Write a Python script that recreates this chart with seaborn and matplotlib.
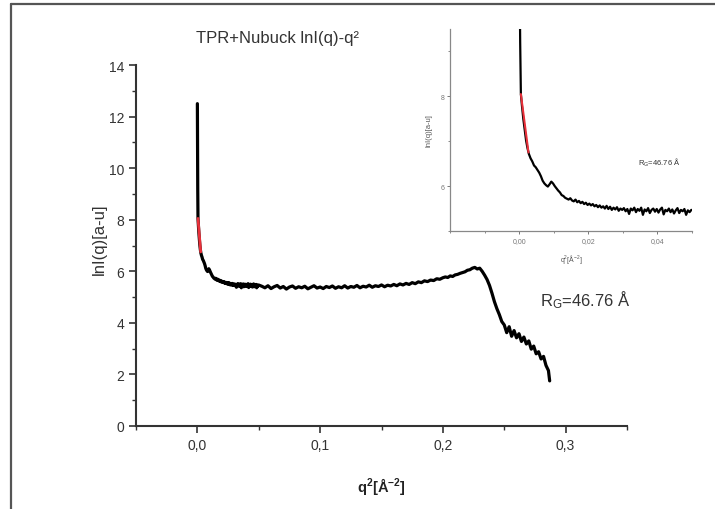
import matplotlib
matplotlib.use("Agg")
import matplotlib.pyplot as plt
from matplotlib.lines import Line2D
from matplotlib.ticker import MultipleLocator, FixedLocator, FixedFormatter
import numpy as np
import pandas as pd
import seaborn as sns

# --- data ------------------------------------------------------------------
# steep Guinier region (q^2 in A^-2, lnI in a.u.)
q2_spike = [0.0000, 0.0001, 0.0002, 0.0003, 0.0005, 0.0008, 0.0012, 0.0016, 0.0020, 0.0024,
            0.0028, 0.0033, 0.0038, 0.0043, 0.0048, 0.0053, 0.0058, 0.0063, 0.0068, 0.0073,
            0.0078, 0.0083, 0.0088, 0.0093, 0.0098, 0.0103, 0.0108, 0.0113, 0.0118, 0.0123,
            0.0128, 0.0133, 0.0138, 0.0143, 0.0148, 0.0153, 0.0158, 0.0163, 0.0168, 0.0173,
            0.0178, 0.0183, 0.0188, 0.0193, 0.0198, 0.0203, 0.0208, 0.0213, 0.0218, 0.0223,
            0.0228, 0.0233, 0.0238, 0.0243, 0.0248, 0.0253, 0.0258, 0.0263, 0.0268, 0.0273,
            0.0278, 0.0283, 0.0288, 0.0293, 0.0298, 0.0303, 0.0308, 0.0313, 0.0318, 0.0323,
            0.0328, 0.0333, 0.0338, 0.0343, 0.0348, 0.0353, 0.0358, 0.0363, 0.0368, 0.0373,
            0.0378, 0.0383, 0.0388, 0.0393, 0.0398, 0.0403, 0.0408, 0.0413, 0.0418, 0.0423,
            0.0428, 0.0433, 0.0438, 0.0443, 0.0448, 0.0453, 0.0458, 0.0463, 0.0468, 0.0473,
            0.0478, 0.0483, 0.0488, 0.0493, 0.0498]
lnI_spike = [12.50, 11.20, 10.10, 9.20, 8.05, 7.80, 7.50, 7.25, 7.02, 6.85,
             6.72, 6.62, 6.55, 6.46, 6.42, 6.36, 6.30, 6.22, 6.12, 6.06,
             6.02, 5.99, 6.04, 6.10, 6.06, 6.00, 5.95, 5.90, 5.86, 5.80,
             5.78, 5.74, 5.72, 5.70, 5.73, 5.68, 5.66, 5.70, 5.64, 5.67,
             5.62, 5.65, 5.60, 5.63, 5.58, 5.61, 5.57, 5.60, 5.55, 5.58,
             5.53, 5.57, 5.52, 5.55, 5.50, 5.56, 5.49, 5.54, 5.47, 5.52,
             5.48, 5.53, 5.45, 5.50, 5.47, 5.51, 5.44, 5.49, 5.38, 5.50,
             5.46, 5.52, 5.42, 5.49, 5.45, 5.52, 5.36, 5.48, 5.44, 5.51,
             5.40, 5.47, 5.50, 5.43, 5.49, 5.41, 5.48, 5.52, 5.37, 5.47,
             5.44, 5.50, 5.42, 5.48, 5.39, 5.46, 5.51, 5.40, 5.47, 5.44,
             5.49, 5.36, 5.46, 5.42, 5.47]

# plateau
q2_plateau = [0.0525, 0.0550, 0.0575, 0.0600, 0.0625, 0.0650, 0.0675, 0.0700, 0.0725, 0.0750,
              0.0775, 0.0800, 0.0825, 0.0850, 0.0875, 0.0900, 0.0925, 0.0950, 0.0975, 0.1000,
              0.1025, 0.1050, 0.1075, 0.1100, 0.1125, 0.1150, 0.1175, 0.1200, 0.1225, 0.1250,
              0.1275, 0.1300, 0.1325, 0.1350, 0.1375, 0.1400, 0.1425, 0.1450, 0.1475, 0.1500,
              0.1525, 0.1550, 0.1575, 0.1600, 0.1625, 0.1650, 0.1675, 0.1700, 0.1725, 0.1750,
              0.1775, 0.1800, 0.1825, 0.1850, 0.1875, 0.1900, 0.1925, 0.1950, 0.1975, 0.2000]
lnI_plateau = [5.42, 5.36, 5.44, 5.33, 5.40, 5.45, 5.35, 5.41, 5.31, 5.39,
               5.43, 5.34, 5.40, 5.36, 5.42, 5.32, 5.38, 5.44, 5.35, 5.39,
               5.33, 5.41, 5.37, 5.43, 5.34, 5.40, 5.36, 5.44, 5.35, 5.41,
               5.38, 5.45, 5.36, 5.42, 5.39, 5.46, 5.38, 5.44, 5.41, 5.47,
               5.40, 5.46, 5.43, 5.49, 5.44, 5.51, 5.47, 5.53, 5.49, 5.56,
               5.52, 5.59, 5.56, 5.63, 5.60, 5.66, 5.64, 5.71, 5.69, 5.75]

# peak and falling tail
q2_tail = [0.202, 0.204, 0.206, 0.208, 0.210, 0.212, 0.214, 0.216, 0.218, 0.220,
           0.222, 0.224, 0.226, 0.228, 0.230, 0.232, 0.234, 0.236, 0.238, 0.240,
           0.242, 0.244, 0.246, 0.248, 0.250, 0.252, 0.254, 0.256, 0.258, 0.260,
           0.262, 0.264, 0.266, 0.268, 0.270, 0.272, 0.274, 0.276, 0.278, 0.280,
           0.282, 0.284, 0.286, 0.287]
lnI_tail = [5.78, 5.76, 5.82, 5.80, 5.86, 5.88, 5.92, 5.95, 5.98, 6.04,
            6.06, 6.12, 6.15, 6.09, 6.12, 6.00, 5.85, 5.68, 5.45, 5.15,
            4.82, 4.55, 4.32, 4.05, 3.92, 3.62, 3.85, 3.48, 3.70, 3.42,
            3.58, 3.28, 3.45, 3.18, 3.30, 2.98, 3.10, 2.80, 2.88, 2.60,
            2.70, 2.35, 2.15, 1.75]

# Guinier fit (red segment)
fit_q2 = [0.0005, 0.0027]
fit_lnI = [8.05, 6.75]

rg_label = "R$_G$=46.76 Å"

df = pd.DataFrame({"q2": q2_spike + q2_plateau + q2_tail,
                   "lnI": lnI_spike + lnI_plateau + lnI_tail})
fit = pd.DataFrame({"q2": fit_q2, "lnI": fit_lnI})

# --- style -----------------------------------------------------------------
sns.set_style("ticks")
plt.rcParams["font.family"] = ["Liberation Sans", "DejaVu Sans"]
plt.rcParams["mathtext.fontset"] = "custom"
plt.rcParams["mathtext.rm"] = "Liberation Sans"
plt.rcParams["mathtext.it"] = "Liberation Sans"
plt.rcParams["mathtext.bf"] = "Liberation Sans:bold"

fig = plt.figure(figsize=(7.15, 5.1), dpi=100)

# partial frame of the original page
fig.add_artist(Line2D([11 / 715, 11 / 715], [0, 1 - 5 / 510], color="#555555", lw=1.6))
fig.add_artist(Line2D([11 / 715, 1], [1 - 5 / 510, 1 - 5 / 510], color="#555555", lw=1.6))

# --- main axes -------------------------------------------------------------
ax = fig.add_axes([136 / 715, 83 / 510, 491 / 715, 361 / 510])
sns.lineplot(data=df, x="q2", y="lnI", ax=ax, color="black", lw=2.3,
             sort=False, estimator=None)
sns.lineplot(data=fit, x="q2", y="lnI", ax=ax, color="#e8303a", lw=2.0,
             sort=False, estimator=None)
ax.set_xlim(-0.05, 0.35)
ax.set_ylim(0, 14)
ax.xaxis.set_major_locator(FixedLocator([0.0, 0.1, 0.2, 0.3]))
ax.xaxis.set_major_formatter(FixedFormatter(["0,0", "0,1", "0,2", "0,3"]))
ax.xaxis.set_minor_locator(MultipleLocator(0.05))
ax.yaxis.set_major_locator(MultipleLocator(2))
ax.yaxis.set_minor_locator(MultipleLocator(1))
ax.tick_params(which="major", length=5, width=1.2, labelsize=10, colors="#333333")
ax.tick_params(which="minor", length=3, width=1.0, colors="#333333")
for s in ["top", "right"]:
    ax.spines[s].set_visible(False)
for s in ["left", "bottom"]:
    ax.spines[s].set_linewidth(1.5)
    ax.spines[s].set_color("#333333")
ax.set_xlabel("q$^\\mathbf{2}$[Å$^\\mathbf{-2}$]", fontsize=10.5, fontweight="bold",
              color="#222222", labelpad=17)
ax.set_ylabel("lnI(q)[a-u]", fontsize=12, color="#333333")
ax.yaxis.set_label_coords(-0.06, 0.52)
ax.text(0.279, 4.9, rg_label, fontsize=12, color="#333333", va="center")
fig.text(277 / 715, 1 - 39 / 510, "TPR+Nubuck lnI(q)-q²", fontsize=12,
         ha="center", va="center", color="#333333")

# --- inset -----------------------------------------------------------------
ins = fig.add_axes([450 / 715, 278 / 510, 242 / 715, 202 / 510])
sns.lineplot(data=df, x="q2", y="lnI", ax=ins, color="black", lw=1.6,
             sort=False, estimator=None)
sns.lineplot(data=fit, x="q2", y="lnI", ax=ins, color="#e8303a", lw=1.5,
             sort=False, estimator=None)
ins.set_xlim(-0.02, 0.05)
ins.set_ylim(5.0, 9.5)
ins.xaxis.set_major_locator(FixedLocator([0.0, 0.02, 0.04]))
ins.xaxis.set_major_formatter(FixedFormatter(["0,00", "0,02", "0,04"]))
ins.xaxis.set_minor_locator(MultipleLocator(0.01))
ins.yaxis.set_major_locator(FixedLocator([6, 8]))
ins.yaxis.set_major_formatter(FixedFormatter(["6", "8"]))
ins.yaxis.set_minor_locator(MultipleLocator(1))
ins.tick_params(which="major", length=2, width=0.7, labelsize=5, colors="#777777", pad=2)
ins.tick_params(which="minor", length=1.2, width=0.6, colors="#777777")
for s in ["top", "right"]:
    ins.spines[s].set_visible(False)
for s in ["left", "bottom"]:
    ins.spines[s].set_linewidth(0.9)
    ins.spines[s].set_color("#888888")
ins.set_xlabel("q$^2$[Å$^{-2}$]", fontsize=5, color="#555555", labelpad=6)
ins.set_ylabel("lnI(q)[a-u]", fontsize=5.5, color="#555555", labelpad=6)
ins.text(0.0345, 6.55, rg_label, fontsize=5.5, color="#333333", va="center")

fig.savefig("out.png", dpi=100)
